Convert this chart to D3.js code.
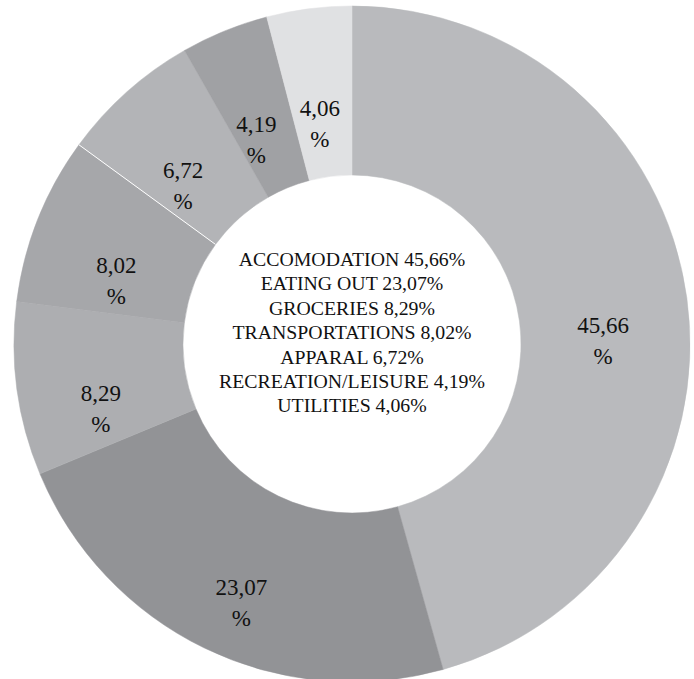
<!DOCTYPE html>
<html>
<head>
<meta charset="utf-8">
<script src="https://cdn.jsdelivr.net/npm/d3@7"></script>
<style>
  html, body { margin: 0; padding: 0; background: #ffffff; }
  svg { display: block; }
</style>
</head>
<body>
<svg id="chart" width="694" height="679"></svg>
<script>
// Household spending shares (percent), clockwise from 12 o'clock
const categories = ["ACCOMODATION", "EATING OUT", "GROCERIES", "TRANSPORTATIONS", "APPARAL", "RECREATION/LEISURE", "UTILITIES"];
const values = [45.66, 23.07, 8.29, 8.02, 6.72, 4.19, 4.06];
const sliceColors = ["#b9babd", "#929396", "#adaeb1", "#a6a7aa", "#b3b4b7", "#a0a1a4", "#e0e1e3"];

const W = 694, H = 679;
const cx = 352, cy = 344;
const outerR = 338, innerR = 169;
const fontFamily = "'Liberation Serif', 'Times New Roman', serif";

const fmt = v => v.toFixed(2).replace(".", ",");

const svg = d3.select("#chart");
const g = svg.append("g").attr("transform", `translate(${cx},${cy})`);

const data = categories.map((c, i) => ({ name: c, value: values[i], color: sliceColors[i] }));

const pie = d3.pie().sort(null).value(d => d.value).startAngle(0).endAngle(2 * Math.PI);
const arcs = pie(data);

const arc = d3.arc().innerRadius(innerR).outerRadius(outerR);
const labelArc = d3.arc().innerRadius((innerR + outerR) / 2).outerRadius((innerR + outerR) / 2);

// Ring slices
g.selectAll("path.slice")
  .data(arcs)
  .join("path")
  .attr("class", "slice")
  .attr("d", arc)
  .attr("fill", d => d.data.color)
  .attr("stroke", d => d.data.color)
  .attr("stroke-width", 0.5);

// Thin white divider where APPARAL begins
const divider = arcs[categories.indexOf("APPARAL")];
const a0 = divider.startAngle;
g.append("line")
  .attr("x1", innerR * Math.sin(a0)).attr("y1", -innerR * Math.cos(a0))
  .attr("x2", outerR * Math.sin(a0)).attr("y2", -outerR * Math.cos(a0))
  .attr("stroke", "#ffffff")
  .attr("stroke-width", 1);

// Value labels on each slice: number, then "%" on the next line
const labels = g.selectAll("text.val")
  .data(arcs)
  .join("text")
  .attr("class", "val")
  .attr("font-family", fontFamily)
  .attr("font-size", 23)
  .attr("fill", "#111111")
  .attr("text-anchor", "middle")
  .attr("transform", d => {
    const [x, y] = labelArc.centroid(d);
    return `translate(${x},${y + 30})`;
  });
labels.append("tspan").attr("x", 0).attr("y", -7).text(d => fmt(d.data.value));
labels.append("tspan").attr("x", 0).attr("y", 24).text("%");

// Legend text in the hole
const legend = g.append("text")
  .attr("font-family", fontFamily)
  .attr("font-size", 19.8)
  .attr("fill", "#111111")
  .attr("text-anchor", "middle");
const lineH = 24.4;
const firstBaseline = 266 - cy;
legend.selectAll("tspan")
  .data(data)
  .join("tspan")
  .attr("x", 0)
  .attr("y", (d, i) => firstBaseline + i * lineH)
  .text(d => `${d.name} ${fmt(d.value)}%`);
</script>
</body>
</html>
